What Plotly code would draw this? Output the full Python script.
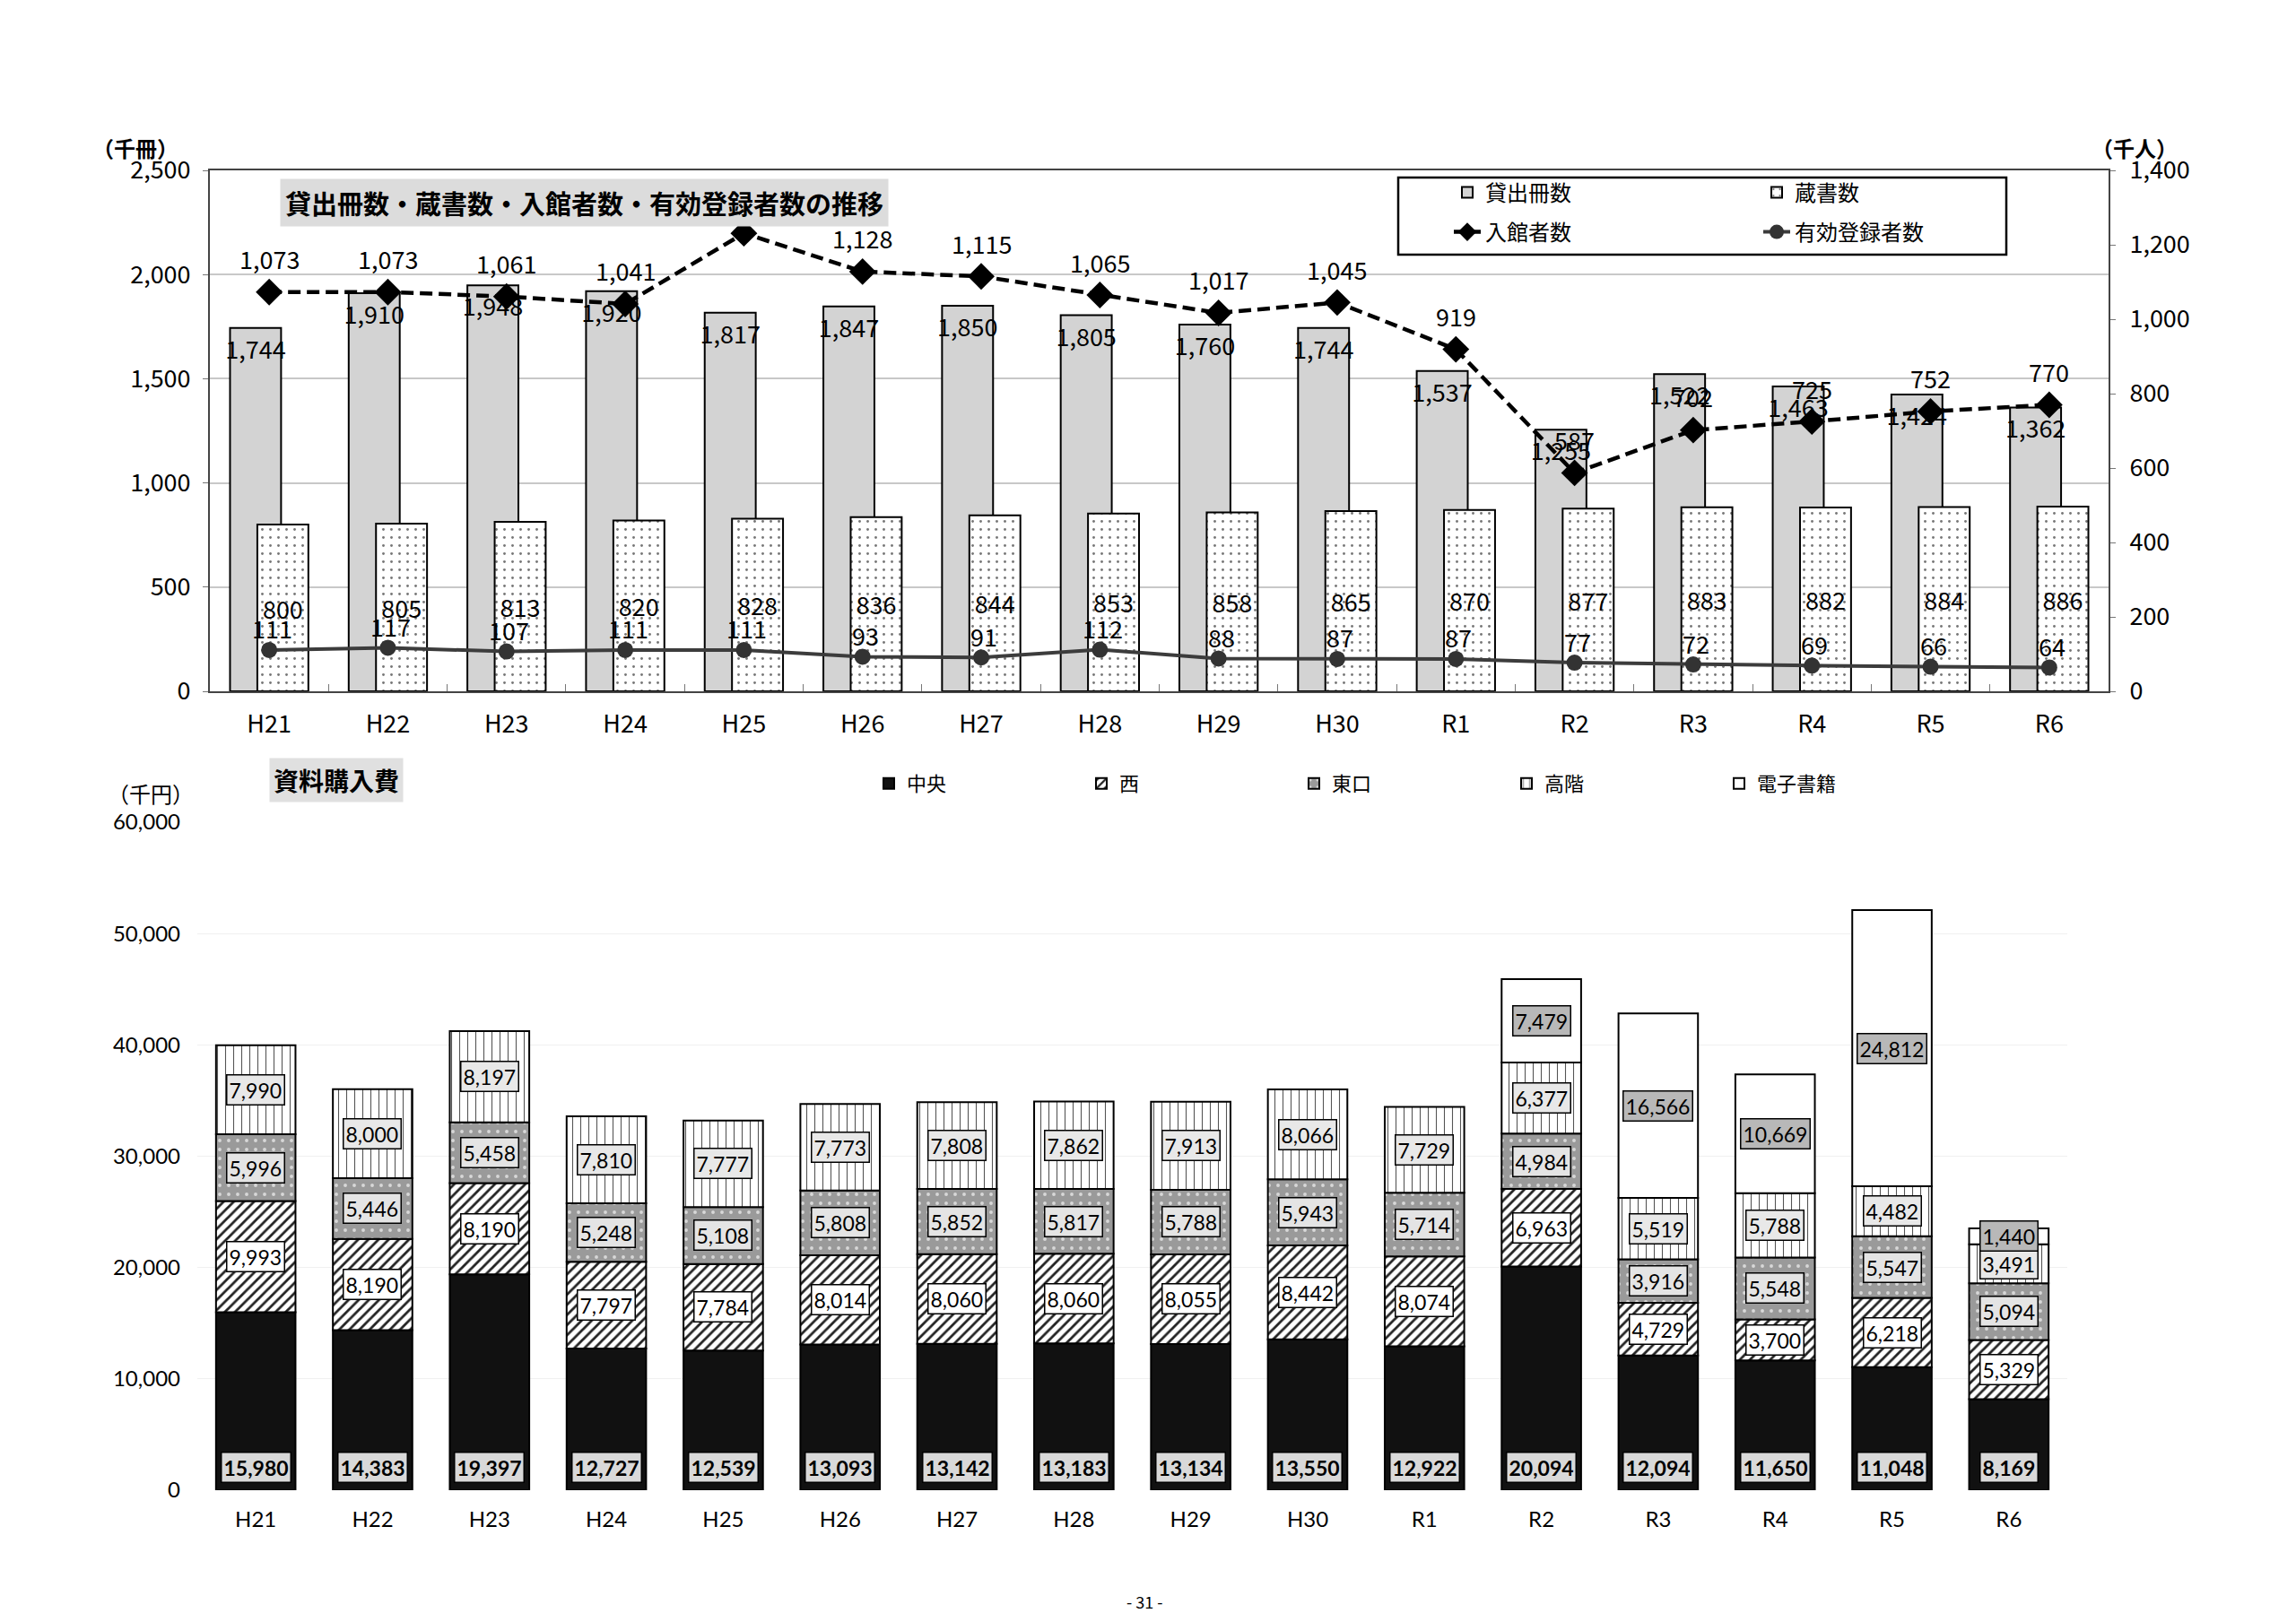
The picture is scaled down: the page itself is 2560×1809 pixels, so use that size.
import plotly.graph_objects as go

years = ["H21", "H22", "H23", "H24", "H25", "H26", "H27", "H28",
         "H29", "H30", "R1", "R2", "R3", "R4", "R5", "R6"]

# upper chart (千冊 / 千人)
loans = [1744, 1910, 1948, 1920, 1817, 1847, 1850, 1805, 1760, 1744, 1537, 1255, 1522, 1463, 1424, 1362]
books = [800, 805, 813, 820, 828, 836, 844, 853, 858, 865, 870, 877, 883, 882, 884, 886]
visitors = [1073, 1073, 1061, 1041, 1231, 1128, 1115, 1065, 1017, 1045, 919, 587, 702, 725, 752, 770]
registered = [111, 117, 107, 111, 111, 93, 91, 112, 88, 87, 87, 77, 72, 69, 66, 64]

# lower chart (千円)
chuo = [15980, 14383, 19397, 12727, 12539, 13093, 13142, 13183, 13134, 13550, 12922, 20094, 12094, 11650, 11048, 8169]
nishi = [9993, 8190, 8190, 7797, 7784, 8014, 8060, 8060, 8055, 8442, 8074, 6963, 4729, 3700, 6218, 5329]
higashiguchi = [5996, 5446, 5458, 5248, 5108, 5808, 5852, 5817, 5788, 5943, 5714, 4984, 3916, 5548, 5547, 5094]
takashina = [7990, 8000, 8197, 7810, 7777, 7773, 7808, 7862, 7913, 8066, 7729, 6377, 5519, 5788, 4482, 3491]
ebooks = [0, 0, 0, 0, 0, 0, 0, 0, 0, 0, 0, 7479, 16566, 10669, 24812, 1440]

NARROW = "Liberation Sans Narrow, Noto Sans CJK JP, sans-serif"
JP = "Noto Sans CJK JP"
CAL = "Lato, Noto Sans CJK JP"


def nfont(size):
    return dict(family=NARROW, size=size, color="black")


def page_text(x, y, text, **kw):
    # x, y in page pixels
    return dict(x=x / 2560, y=1 - y / 1809, xref="paper", yref="paper", text=text,
                showarrow=False, xanchor="center", yanchor="middle", **kw)


fig = go.Figure()

# ---- upper chart
fig.add_trace(go.Bar(
    x=years, y=loans, name="貸出冊数", legend="legend",
    xaxis="x", yaxis="y", offset=-0.33, width=0.43,
    marker=dict(color="#d3d3d3", line=dict(color="black", width=2)),
    text=[f"{v:,}" for v in loans], textposition="inside", insidetextanchor="end",
    textangle=0, constraintext="none", textfont=nfont(27),
))
fig.add_trace(go.Bar(
    x=years, y=books, name="蔵書数", legend="legend",
    xaxis="x", yaxis="y", offset=-0.10, width=0.43,
    marker=dict(color="white", line=dict(color="black", width=2),
                pattern=dict(shape=".", fgcolor="#777", bgcolor="white", size=9, solidity=0.08)),
    text=[f"{v:,}" for v in books], textposition="inside", insidetextanchor="middle",
    textangle=0, constraintext="none", textfont=nfont(27),
))
fig.add_trace(go.Scatter(
    x=years, y=visitors, name="入館者数", legend="legend2",
    xaxis="x", yaxis="y2", mode="lines+markers",
    line=dict(color="black", width=4.5, dash="14px,7px"),
    marker=dict(symbol="diamond", size=23, color="black"),
))
fig.add_trace(go.Scatter(
    x=years, y=registered, name="有効登録者数", legend="legend2",
    xaxis="x", yaxis="y2", mode="lines+markers",
    line=dict(color="#3c3c3c", width=4),
    marker=dict(symbol="circle", size=18, color="#333"),
))

# ---- lower chart (stacked by hand so overlay mode works for both charts)
segments = [
    ("中央", chuo, dict(color="#111", line=dict(color="black", width=2))),
    ("西", nishi, dict(color="white", line=dict(color="black", width=2),
                      pattern=dict(shape="/", fgcolor="#222", bgcolor="white", size=8, solidity=0.35))),
    ("東口", higashiguchi, dict(color="#9a9a9a", line=dict(color="black", width=2),
                             pattern=dict(shape=".", fgcolor="#d8d8d8", bgcolor="#9a9a9a", size=10, solidity=0.12))),
    ("高階", takashina, dict(color="white", line=dict(color="black", width=2),
                           pattern=dict(shape="|", fgcolor="#555", bgcolor="white", size=9, solidity=0.12))),
    ("電子書籍", ebooks, dict(color="white", line=dict(color="black", width=2))),
]
box_style = {
    "中央": dict(bgcolor="#d9d9d9", weight="bold"),
    "西": dict(bgcolor="white", weight="normal"),
    "東口": dict(bgcolor="#e4e4e4", weight="normal"),
    "高階": dict(bgcolor="#e8e8e8", weight="normal"),
    "電子書籍": dict(bgcolor="#b8b8b8", weight="normal"),
}

annotations = []
running = [0] * len(years)
for name, vals, marker in segments:
    ys = [v if v > 0 else None for v in vals]
    fig.add_trace(go.Bar(
        x=years, y=ys, base=list(running), name=name, legend="legend3",
        xaxis="x2", yaxis="y3", offset=-0.34, width=0.68, marker=marker,
    ))
    st = box_style[name]
    for i, v in enumerate(vals):
        if v <= 0:
            continue
        if name == "中央":
            pos = dict(y=0, yanchor="bottom", yshift=8)
        else:
            pos = dict(y=running[i] + v / 2, yanchor="middle")
        annotations.append(dict(
            x=years[i], xref="x2", yref="y3", text=f"{v:,}", showarrow=False,
            xanchor="center",
            bgcolor=st["bgcolor"], bordercolor="black", borderwidth=1.5, borderpad=2,
            font=dict(family=CAL, size=23, color="black", weight=st["weight"]), **pos))
    running = [r + v for r, v in zip(running, vals)]

# line labels
for i, v in enumerate(visitors):
    annotations.append(dict(x=years[i], y=v, xref="x", yref="y2", text=f"{v:,}",
                            showarrow=False, xanchor="center", yanchor="middle",
                            yshift=37, font=nfont(27)))
for i, v in enumerate(registered):
    annotations.append(dict(x=years[i], y=v, xref="x", yref="y2", text=f"{v:,}",
                            showarrow=False, xanchor="center", yanchor="middle",
                            yshift=24, xshift=3, font=nfont(27)))

# titles and units (drawn last, the title box hides the H25 label as in the source)
annotations += [
    page_text(643, 218, "貸出冊数・蔵書数・入館者数・有効登録者数の推移",
              bgcolor="#dcdcdc", borderpad=5,
              font=dict(family=JP, size=29, color="black", weight="bold")),
    page_text(367, 862, "資料購入費", bgcolor="#e0e0e0", borderpad=4,
              font=dict(family=JP, size=28, color="black", weight="bold")),
    page_text(143, 157, "（千冊）", font=dict(family=JP, size=24, color="black", weight="bold")),
    page_text(2372, 157, "（千人）", font=dict(family=JP, size=24, color="black", weight="bold")),
    page_text(160, 876, "（千円）", font=dict(family=JP, size=24, color="black")),
    page_text(1268, 1778, "- 31 -", font=dict(family=JP, size=18, color="black")),
]

legend_common = dict(orientation="h", xanchor="left", yanchor="middle",
                     bgcolor="rgba(0,0,0,0)", entrywidthmode="pixels",
                     font=dict(family=JP, size=24, color="black"))

fig.update_layout(
    template="none",
    width=2560, height=1809,
    margin=dict(l=0, r=0, t=0, b=0, autoexpand=False),
    paper_bgcolor="white", plot_bgcolor="white",
    barmode="overlay",
    showlegend=True,
    font=dict(family=NARROW, color="black"),
    xaxis=dict(domain=[226 / 2560, 2343 / 2560], anchor="y", type="category",
               range=[-0.5, len(years) - 0.5],
               showline=True, linecolor="#444", linewidth=2, mirror=True,
               ticks="inside", tickson="boundaries", ticklen=8, tickcolor="#777",
               showgrid=False, zeroline=False, automargin=False, ticklabelstandoff=12,
               tickfont=nfont(27)),
    yaxis=dict(domain=[1 - 763 / 1809, 1 - 182 / 1809], anchor="x",
               range=[0, 2500], dtick=500, tickformat=",",
               showline=True, linecolor="#444", linewidth=2, zeroline=False,
               ticks="outside", ticklen=6, tickcolor="#777", automargin=False,
               showgrid=True, gridcolor="#c8c8c8", gridwidth=1.5,
               ticklabelstandoff=8, tickfont=nfont(27)),
    yaxis2=dict(overlaying="y", side="right", anchor="x",
                range=[0, 1400], dtick=200, tickformat=",",
                showline=True, linecolor="#444", linewidth=2, zeroline=False,
                ticks="outside", ticklen=6, tickcolor="#777", showgrid=False,
                automargin=False, ticklabelstandoff=10, tickfont=nfont(27)),
    xaxis2=dict(domain=[212 / 2560, 2297 / 2560], anchor="y3", type="category",
                range=[-0.5, len(years) - 0.5],
                showline=False, showgrid=False, zeroline=False, ticks="",
                automargin=False, ticklabelstandoff=16,
                tickfont=dict(family=CAL, size=24, color="black")),
    yaxis3=dict(domain=[1 - 1654 / 1809, 1 - 909 / 1809], anchor="x2",
                range=[0, 60000], dtick=10000, tickformat=",",
                showline=False, showgrid=True, gridcolor="#f0f0f0", zeroline=False,
                ticks="", automargin=False, ticklabelstandoff=18,
                tickfont=dict(family=CAL, size=24, color="black")),
    legend=dict(x=1608 / 2560, y=1 - 207 / 1809, entrywidth=300, **legend_common),
    legend2=dict(x=1608 / 2560, y=1 - 251 / 1809, entrywidth=300, **legend_common),
    legend3=dict(x=963 / 2560, y=1 - 866 / 1809, entrywidth=192,
                 **{**legend_common, "font": dict(family=JP, size=22, color="black")}),
    shapes=[dict(type="rect", xref="paper", yref="paper",
                 x0=1551 / 2560, x1=2229 / 2560, y0=1 - 276 / 1809, y1=1 - 190 / 1809,
                 line=dict(color="black", width=2.5))],
    annotations=annotations,
)

fig.write_html("out.html")
